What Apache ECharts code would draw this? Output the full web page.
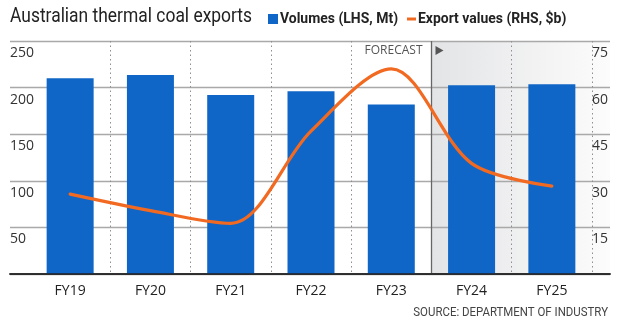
<!DOCTYPE html>
<html>
<head>
<meta charset="utf-8">
<script src="https://cdn.jsdelivr.net/npm/echarts@6/dist/echarts.min.js"></script>
<style>
  html, body { margin: 0; padding: 0; background: #fff; }
  #chart { width: 620px; height: 327px; }
</style>
</head>
<body>
<div id="chart"></div>
<script>
// Financial years on the category axis
const years = ['FY19', 'FY20', 'FY21', 'FY22', 'FY23', 'FY24', 'FY25'];
// Thermal coal export volumes, million tonnes (left axis)
const volumes = [210, 213.5, 192, 196, 182, 202.5, 203.5];
// Export values, $ billion (right axis)
const exportValues = [25.7, 20.4, 16.3, 46, 66, 35.6, 28.3];
// First forecast year
const forecastStart = 'FY24';

const volName = 'Volumes (LHS, Mt)';
const valName = 'Export values (RHS, $b)';
const BLUE = '#1066c6';
const ORANGE = '#f26a21';

const sans = "'Open Sans', 'Noto Sans', sans-serif";

const chart = echarts.init(document.getElementById('chart'), null, { renderer: 'canvas' });

const TOP = 41, BOTTOM = 53;

chart.setOption({
  animation: false,
  backgroundColor: '#ffffff',
  grid: [
    { left: 10, right: 10, top: TOP, bottom: BOTTOM },
    { left: 30, right: 28, top: TOP, bottom: BOTTOM }
  ],
  xAxis: [
    { // top frame line
      gridIndex: 0, type: 'value', position: 'top', min: 0, max: 1,
      axisLine: { show: true, lineStyle: { color: '#333', width: 1.6 } },
      axisTick: { show: false }, axisLabel: { show: false }, splitLine: { show: false }
    },
    { // bottom baseline
      gridIndex: 0, type: 'value', position: 'bottom', min: 0, max: 1,
      axisLine: { show: true, lineStyle: { color: '#222', width: 1.6 } },
      axisTick: { show: false }, axisLabel: { show: false }, splitLine: { show: false }, z: 5
    },
    {
      gridIndex: 1, type: 'category', data: years, boundaryGap: true,
      axisLine: { show: false }, axisTick: { show: false },
      axisLabel: { fontFamily: sans, fontSize: 14, color: '#222', margin: 10 },
      splitLine: {
        show: true,
        interval: function (idx) { return idx > 0 && idx < years.length && years[idx] !== forecastStart; },
        lineStyle: { color: '#8f8f8f', width: 1, type: [1.5, 3] }
      }
    }
  ],
  yAxis: [
    {
      gridIndex: 0, type: 'value', min: 0, max: 250, interval: 50, position: 'left',
      axisLine: { show: false }, axisTick: { show: false },
      splitLine: { show: true, lineStyle: { color: '#a9a9a9', width: 1.3 } },
      axisLabel: {
        inside: true, margin: 0, fontFamily: sans, fontSize: 14, color: '#333',
        verticalAlign: 'top', padding: [5, 0, 0, 0],
        formatter: v => (v === 0 ? '' : String(v))
      }
    },
    {
      gridIndex: 0, type: 'value', min: 0, max: 75, interval: 15, position: 'right',
      axisLine: { show: false }, axisTick: { show: false }, splitLine: { show: false },
      axisLabel: {
        inside: true, margin: 2, fontFamily: sans, fontSize: 14, color: '#333',
        verticalAlign: 'top', padding: [5, 0, 0, 0],
        formatter: v => (v === 0 ? '' : String(v))
      }
    },
    { gridIndex: 1, type: 'value', min: 0, max: 250, show: false, splitLine: { show: false } },
    { gridIndex: 1, type: 'value', min: 0, max: 75, show: false, splitLine: { show: false } }
  ],
  series: [
    {
      name: volName, type: 'bar', xAxisIndex: 2, yAxisIndex: 2,
      data: volumes, barWidth: 47,
      itemStyle: { color: BLUE }, z: 3
    },
    {
      name: valName, type: 'line', xAxisIndex: 2, yAxisIndex: 3,
      data: exportValues, smooth: 0.32, symbol: 'none',
      lineStyle: { color: ORANGE, width: 3.2, cap: 'round' },
      itemStyle: { color: ORANGE }, z: 4
    }
  ]
});

// Header, key, forecast band and source note
function drawDecorations() {
  const c0 = chart.convertToPixel({ xAxisIndex: 2 }, years[0]);
  const c1 = chart.convertToPixel({ xAxisIndex: 2 }, years[1]);
  const band = c1 - c0;
  const fx = Math.round(chart.convertToPixel({ xAxisIndex: 2 }, forecastStart) - band / 2) + 0.5;
  const top = chart.convertToPixel({ yAxisIndex: 0 }, 250);
  const bottom = chart.convertToPixel({ yAxisIndex: 0 }, 0);
  const right = chart.getWidth() - 10;
  const keyFont = "bold 15px Roboto, sans-serif";
  chart.setOption({
    graphic: [
      {
        type: 'text', silent: true, x: 10, y: 17, scaleX: 0.83,
        style: {
          text: 'Australian thermal coal exports', fill: '#222',
          font: "21px Roboto, sans-serif", textAlign: 'left', textVerticalAlign: 'middle'
        }
      },
      {
        type: 'rect', silent: true,
        shape: { x: 268, y: 14, width: 10, height: 10 },
        style: { fill: BLUE }
      },
      {
        type: 'text', silent: true, x: 280, y: 19, scaleX: 0.93,
        style: { text: volName, fill: '#222', font: keyFont, textAlign: 'left', textVerticalAlign: 'middle' }
      },
      {
        type: 'rect', silent: true,
        shape: { x: 407, y: 17.5, width: 9, height: 3 },
        style: { fill: ORANGE }
      },
      {
        type: 'text', silent: true, x: 418, y: 19, scaleX: 0.93,
        style: { text: valName, fill: '#222', font: keyFont, textAlign: 'left', textVerticalAlign: 'middle' }
      },
      {
        type: 'rect', z: -10, silent: true,
        shape: { x: fx, y: top, width: right - fx, height: bottom - top },
        style: {
          fill: new echarts.graphic.LinearGradient(0, 0, 1, 0, [
            { offset: 0, color: '#e3e4e6' },
            { offset: 1, color: '#fcfcfc' }
          ])
        }
      },
      {
        type: 'line', z: 1, silent: true,
        shape: { x1: fx, y1: top, x2: fx, y2: bottom },
        style: { stroke: '#666', lineWidth: 1.3 }
      },
      {
        type: 'text', z: 6, silent: true,
        x: fx - 9, y: top + 10,
        style: {
          text: 'FORECAST', fill: '#555', font: "12px 'Open Sans', sans-serif",
          textAlign: 'right', textVerticalAlign: 'middle'
        }
      },
      {
        type: 'polygon', z: 6, silent: true,
        shape: { points: [[fx + 4, top + 5], [fx + 12, top + 9.5], [fx + 4, top + 14]] },
        style: { fill: '#555' }
      },
      {
        type: 'text', silent: true, x: right - 2, y: 313, scaleX: 0.88,
        style: {
          text: 'SOURCE: DEPARTMENT OF INDUSTRY', fill: '#444',
          font: "13px Roboto, sans-serif", textAlign: 'right', textVerticalAlign: 'middle'
        }
      }
    ]
  });
}
drawDecorations();
</script>
</body>
</html>
